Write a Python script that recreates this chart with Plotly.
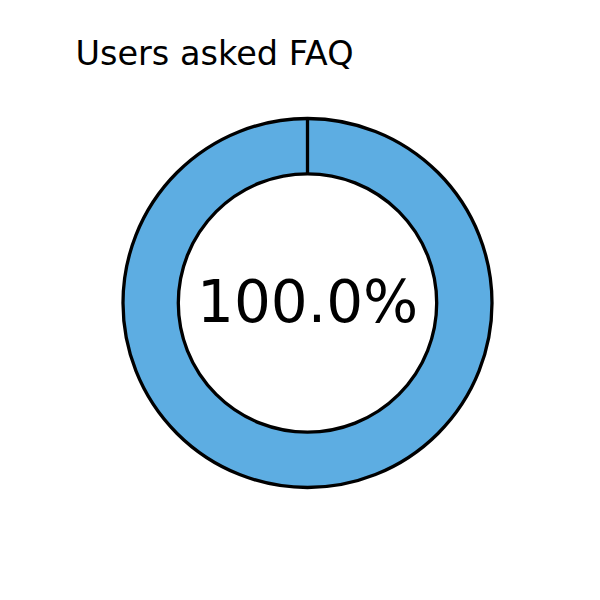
import plotly.graph_objects as go

labels = ["Asked FAQ"]
values = [100.0]
title_text = "Users asked FAQ"
slice_color = "#5DADE2"

W = H = 600
cx, cy, R = 307.5, 303, 184.5   # pixel geometry of the pie (layout)
hole = 0.70

dom_x = [(cx - R) / W, (cx + R) / W]
dom_y = [1 - (cy + R) / H, 1 - (cy - R) / H]

pct = values[0] / sum(values) * 100

fig = go.Figure(go.Pie(
    labels=labels, values=values, hole=hole, sort=False,
    direction="clockwise", rotation=0,
    marker=dict(colors=[slice_color], line=dict(color="black", width=3.3)),
    textinfo="none", hoverinfo="skip", showlegend=False,
    domain=dict(x=dom_x, y=dom_y),
))

# radial edge at the start angle (top), derived from pie geometry
fig.add_shape(type="line", xref="paper", yref="paper",
              x0=cx / W, x1=cx / W,
              y0=1 - (cy - R * hole) / H, y1=1 - (cy - R) / H,
              line=dict(color="black", width=3.3))

fig.add_annotation(x=cx / W, y=1 - (cy - 1) / H, xref="paper", yref="paper",
                   text=f"{pct:.1f}%", showarrow=False,
                   font=dict(family="DejaVu Sans", size=58, color="black"))

fig.update_layout(
    width=W, height=H, margin=dict(l=0, r=0, t=0, b=0),
    paper_bgcolor="white", plot_bgcolor="white",
    title=dict(text=title_text, x=75.5 / W, xanchor="left", xref="paper",
               y=1 - 53 / H, yanchor="middle", yref="paper",
               font=dict(family="DejaVu Sans", size=33.5, color="black")),
)

fig.write_html("out.html")
